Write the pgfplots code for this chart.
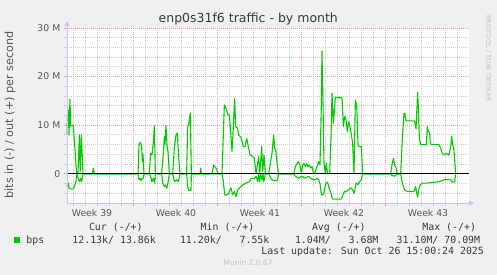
\documentclass[border=0pt]{standalone}
\usepackage{fontspec}
\setmainfont{DejaVu Sans}
\newfontfamily\monofont{DejaVu Sans Mono}
\usepackage{pgfplots}
\pgfplotsset{compat=1.18}
\usetikzlibrary{arrows.meta}
\definecolor{bg}{HTML}{F0F0F0}
\definecolor{grn}{HTML}{00CC00}
\definecolor{mgrid}{HTML}{E6A0A0}
\definecolor{ngrid}{HTML}{CCCCCC}
\definecolor{axc}{HTML}{C4C8F4}
\definecolor{lab}{HTML}{585858}
\definecolor{leg}{HTML}{3A3A3A}
\definecolor{faint}{HTML}{C4C4C4}

\pgfplotstableread{
h v
0 8.3
1.3 12.8
2.7 13.1
4 8.0
6 15.4
7.3 9.9
12.7 9.9
18 1.8
19.3 0
22 0
24.7 8.0
26.5 0.5
28.7 8.0
32 0
50.7 0
52.7 1.2
54.7 0
142 0
144 6.0
146.7 6.5
149.3 5.6
150.7 2.5
152 3.9
154 0
164.7 0
167.3 4.2
170 3.9
172.7 6.6
174.7 9.9
176.7 0
189.3 0
192 3.2
194.7 7.7
196 6.0
198 9.9
200 6.0
202 4.6
204.7 0
211.3 0
214.7 5.3
218 8.0
220.7 8.4
222.7 4.6
226 0
239.3 0
241.3 9.7
243.3 10.1
245 11.4
246.7 12.5
248.7 0
266 0
267.3 1.2
268.7 0
290 0
293.3 1.8
295.3 1.5
298 1.2
300.7 0.5
302.7 0
310 0
314.7 14.2
318 13.5
321.3 12.3
324.7 12.1
327.3 8.7
330 4.6
332.7 9.7
335.3 15.5
337.3 9.7
340.7 9.5
343.3 8.0
346 7.7
348.7 7.3
352.7 5.6
356 5.6
359.3 7.3
362.7 5.6
366 3.9
371.3 3.6
374.7 3.2
378 0.1
380.7 1.8
383.3 3.6
385.3 0
387.3 2.5
389.3 5.6
391.5 0.5
394 3.9
396.7 0
403.3 0
406.7 2.2
410 4.2
413.3 8.0
415.3 5.3
418 4.6
420.7 1.5
423.3 0
453.3 0
456.7 1.5
460 2.1
463.3 2.5
466 1.8
468.7 0
471.3 1.8
474 2.2
476.7 1.5
479.3 2.1
482 1.5
484.7 1.8
487.3 1.2
490 1.5
493.3 0
496.7 0.5
500 1.5
503.3 2.5
506 1.8
508.7 14.5
510 25.3
512 14.5
514 2.2
516.7 0
518.5 2.2
521.3 0
525.3 0
528 7.3
530 16.6
532.7 10.4
536.7 15.7
550 15.7
552.7 9.7
555.3 11.8
558 11.1
560.7 8.7
563.3 10.7
566 9.7
568.7 8.0
571.3 6.3
573 1.8
574 0
576.7 15.2
579.3 14.2
582 6.0
584 5.6
588.7 5.6
591.3 0
647.3 0
650 1.8
652.7 3.2
655.3 1.8
658 1.2
660.7 0
667.3 0
670.7 7.3
674 12.5
676 12.5
678 10.9
695.3 10.9
698 9.2
701.3 16.8
702.7 13.5
704.7 7.3
707.3 6.0
718.7 6.0
720.7 9.7
722.7 8.7
725.3 8.4
726.7 6.3
728.7 6.0
744 6.0
747.3 5.3
750.7 4.2
754 3.9
759.3 4.2
764 3.9
767.3 5.6
769.3 7.7
771.3 6.0
774 4.9
776 1.8
777.3 0
}\outdata

\pgfplotstableread{
h v
0 -2.3
1.3 -2.8
2.7 -1.9
4 -2.9
6 -3.1
12.7 -3.1
18 -1.6
19.3 0
23.3 -1.2
25.3 -1.6
27.3 -0.9
29.3 -1.6
32 0
142 0
144 -1.2
146 -0.9
148 -1.4
150 -1.0
152.7 -0.9
154 0
164.7 0
167.3 -0.5
170 -1.6
172.7 -0.9
175.3 -1.9
176.7 0
189.3 0
191.3 -1.9
194.7 -2.6
196.7 -2.3
199.3 -3.0
201.3 -2.3
204.7 0
211.3 0
213.3 -0.9
215.3 -1.6
219.3 -1.2
222.7 -1.6
226 0
239.3 0
241.3 -2.6
243.3 -3.4
248 -3.4
248.7 0
310 0
312.7 -1.6
315.3 -4.3
318 -4.4
322 -4.2
324.7 -3.6
328 -2.9
331.3 -4.3
334.7 -3.6
338 -4.7
341.3 -3.3
344.7 -2.9
351.3 -2.3
358 -1.9
364.7 -1.6
368 -1.0
374.7 -1.0
378 -0.5
381.3 -1.6
383.3 0
385.3 -1.6
387.3 0
390 -1.2
392 0
393.3 -1.6
395 -1.0
396.7 0
403.3 0
408.7 -1.1
412 -1.4
420 -1.4
423.3 0
453.3 0
456.7 -0.5
463.3 -0.9
470 -0.5
476.7 -0.9
483.3 -0.5
490 -1.1
496.7 -1.2
500 -0.9
503.3 -1.2
506 -2.0
509 -4.3
513 -4.3
515.5 -3.0
518 -1.9
521 -1.7
525.3 -3.3
528 -4.0
530.7 -5.2
548.7 -5.2
552 -4.3
555.3 -3.6
558.7 -3.7
562 -3.3
565.3 -3.1
568.7 -2.9
571.3 -3.3
574 -4.0
576 -3.2
578 -1.9
582 -2.2
585.3 -1.6
588.7 -1.2
591.3 0
647.3 0
650 -0.3
655.3 -0.5
660.7 0
667.3 0
670 -1.6
672.7 -2.6
675.3 -3.3
680.7 -3.6
694 -3.6
697.3 -2.6
699.3 -4.0
701.3 -4.8
703.3 -3.3
706 -2.3
710.7 -1.9
720.7 -1.9
727.3 -1.8
740.7 -1.7
750.7 -1.4
754 -1.2
767.3 -1.2
770.7 -1.7
775.3 -1.7
777.3 0
}\indata

\begin{document}
\begin{tikzpicture}[x=1pt,y=1pt]
\useasboundingbox (0,0) rectangle (497,275);
\fill[bg] (0,0) rectangle (497,275);
\begin{axis}[
  at={(67pt,72pt)}, anchor=south west,
  scale only axis, width=402pt, height=175pt,
  xmin=0, xmax=804, ymin=-6, ymax=30,
  axis background/.style={fill=white},
  axis line style={draw=none},
  xtick pos=left, ytick pos=left,
  xtick={132,300,468,636}, xticklabels={},
  minor xtick={12,36,60,84,108,156,180,204,228,252,276,324,348,372,396,420,444,492,516,540,564,588,612,660,684,708,732,756,780},
  ytick={0,10,20,30}, yticklabels={0\hspace{6.5pt},10 M,20 M,30 M},
  minor ytick={-4,-2,2,4,6,8,12,14,16,18,22,24,26,28},
  grid=both,
  major grid style={mgrid, line width=0.9pt, dash pattern=on 1pt off 1pt},
  minor grid style={ngrid, line width=0.9pt, dash pattern=on 1pt off 1pt},
  tick align=outside,
  major tick length=3pt, minor tick length=3pt,
  major tick style={mgrid, line width=0.9pt},
  minor tick style={axc, line width=0.9pt},
  tick label style={font=\fontsize{9.3}{11}\selectfont, text=lab},
  yticklabel style={anchor=east, inner sep=0pt, xshift=-3.5pt},
  extra x ticks={50,218,386,554,722},
  extra x tick labels={Week 39,Week 40,Week 41,Week 42,Week 43},
  extra x tick style={grid=none, major tick length=0pt, xticklabel style={anchor=base, inner sep=0pt, yshift=-13.5pt}},
  clip=false,
]
\addplot[grn, line width=1.1pt, line join=round] table[x=h,y=v] {\outdata};
\addplot[grn, line width=1.1pt, line join=round] table[x=h,y=v] {\indata};
\addplot[black, line width=1pt] coordinates {(0,0) (804,0)};
\end{axis}
\draw[axc, line width=0.9pt, -{Triangle[length=5pt,width=5pt]}] (67,72) -- (67,254);
\draw[axc, line width=0.9pt, -{Triangle[length=5pt,width=5pt]}] (67,72) -- (474,72);
\node[anchor=base, text=leg] at (248.3,252.5) {\fontsize{12.5}{15}\selectfont enp0s31f6 traffic - by month};
\node[rotate=90, anchor=base, text=lab] at (13,160) {\fontsize{11.2}{13}\selectfont bits in (-) / out (+) per second};
\node[rotate=-90, anchor=base west, text=faint, inner sep=0pt] at (486,260) {\fontsize{6.75}{8}\selectfont RRDTOOL / TOBI OETIKER};
\fill[grn] (14,32) rectangle (20,38);
\begin{scope}[every node/.style={inner sep=0pt, text=leg, font=\monofont\fontsize{9.9}{12}\selectfont}]
\node[anchor=base west] at (26.2,31.7) {bps};
\node[anchor=base west] at (88.8,44.5) {Cur (-/+)};
\node[anchor=base west] at (200.5,44.5) {Min (-/+)};
\node[anchor=base west] at (311.8,44.5) {Avg (-/+)};
\node[anchor=base west] at (422.2,44.5) {Max (-/+)};
\node[anchor=base west] at (72.2,31.7) {12.13k/\phantom{0}13.86k};
\node[anchor=base west] at (179.8,31.7) {11.20k/\phantom{000}7.55k};
\node[anchor=base west] at (294.8,31.7) {1.04M/\phantom{000}3.68M};
\node[anchor=base west] at (396.5,31.7) {31.10M/\phantom{0}70.09M};
\node[anchor=base west] at (261.2,20.3) {Last update: Sun Oct 26 15:00:24 2025};
\end{scope}
\node[anchor=base, text=faint, inner sep=0pt] at (248,9) {\fontsize{7.5}{9}\selectfont Munin 2.0.67};
\end{tikzpicture}
\end{document}
